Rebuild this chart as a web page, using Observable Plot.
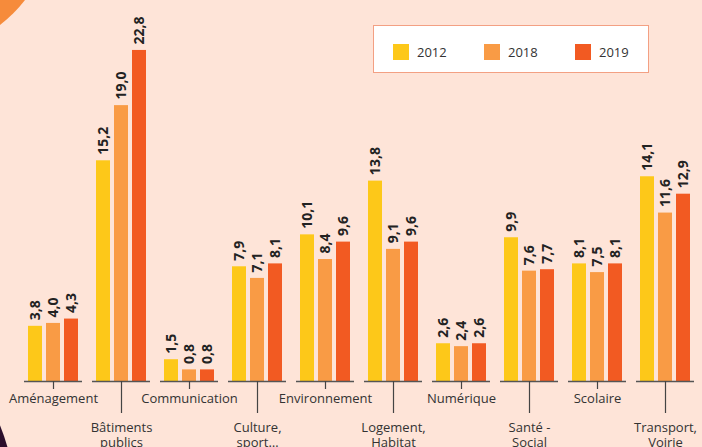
<!DOCTYPE html>
<html>
<head>
<meta charset="utf-8">
<script src="https://cdn.jsdelivr.net/npm/d3@7"></script>
<script src="https://cdn.jsdelivr.net/npm/@observablehq/plot@0.6"></script>
<style>
  html, body { margin: 0; padding: 0; background: #fee4d8; }
  #wrap { position: relative; width: 702px; height: 447px; overflow: hidden; background: #fee4d8; font-family: "Open Sans", sans-serif; }
  .deco1 { position: absolute; left: -212px; top: -212px; width: 264px; height: 264px; border-radius: 50%; background: #f68b3b; }
  .deco2 { position: absolute; left: -498px; top: 262px; width: 516px; height: 516px; border-radius: 50%; background: #2b0e2c; }
  #chart { position: absolute; left: 0; top: 0; }
  #legend { position: absolute; left: 373px; top: 25px; width: 276px; height: 48px; box-sizing: border-box; background: #fff; border: 1.5px solid #f3a083; }
  .item { position: absolute; top: 17px; display: flex; align-items: center; font-size: 13px; color: #333; }
  .sw { width: 16px; height: 16px; margin-right: 8px; }
</style>
</head>
<body>
<div id="wrap">
  <div class="deco1"></div>
  <div class="deco2"></div>
  <div id="chart"></div>
  <div id="legend"></div>
</div>
<script>
const categories = ["Aménagement", "Bâtiments\npublics", "Communication", "Culture,\nsport…", "Environnement", "Logement,\nHabitat", "Numérique", "Santé -\nSocial", "Scolaire", "Transport,\nVoirie"];
const years = ["2012", "2018", "2019"];
const colors = ["#fdc819", "#f99b45", "#f25a22"];
const v2012 = [3.8, 15.2, 1.5, 7.9, 10.1, 13.8, 2.6, 9.9, 8.1, 14.1];
const v2018 = [4.0, 19.0, 0.8, 7.1, 8.4, 9.1, 2.4, 7.6, 7.5, 11.6];
const v2019 = [4.3, 22.8, 0.8, 8.1, 9.6, 9.6, 2.6, 7.7, 8.1, 12.9];
const longLabels = [categories[1], categories[3], categories[5], categories[7], categories[9]];
const shortLabels = categories.filter(c => !longLabels.includes(c));

const series = [v2012, v2018, v2019];
const data = [];
categories.forEach((c, i) => years.forEach((y, j) => data.push({cat: c, year: y, value: series[j][i]})));

const fmt = d3.format(".1f");
const axisStyle = {anchor: "bottom", fontSize: 13, color: "#333", stroke: "#444", strokeWidth: 1.2, label: null};
const chart = Plot.plot({
  width: 702,
  height: 447,
  marginLeft: 24,
  marginRight: 7,
  marginTop: 0,
  marginBottom: 66,
  style: {background: "transparent", fontFamily: "Open Sans, sans-serif"},
  fx: {domain: categories, padding: 0.147, axis: null},
  x: {domain: years, padding: 0.222, axis: null},
  y: {domain: [0, 26.24], axis: null},
  color: {domain: years, range: colors},
  marks: [
    Plot.barY(data, {fx: "cat", x: "year", y: "value", fill: "year"}),
    Plot.ruleY([0], {stroke: "#555", strokeWidth: 1.5}),
    Plot.text(data, {fx: "cat", x: "year", y: "value", text: d => fmt(d.value).replace(".", ","), rotate: -90, textAnchor: "start", lineAnchor: "middle", dy: -6, fontWeight: "bold", fontSize: 14, fill: "#222"}),
    Plot.axisFx({...axisStyle, ticks: shortLabels, tickSize: 8, tickPadding: 4}),
    Plot.axisFx({...axisStyle, ticks: longLabels, tickSize: 32, tickPadding: 9, tickFormat: d => d.split("\n")[0]}),
    Plot.axisFx({...axisStyle, ticks: longLabels, tickSize: 0, tickPadding: 56, tickFormat: d => d.split("\n")[1]})
  ]
});
document.getElementById("chart").appendChild(chart);

const legend = document.getElementById("legend");
const lefts = [19, 110, 201];
years.forEach((y, i) => {
  const it = document.createElement("div");
  it.className = "item";
  it.style.left = lefts[i] + "px";
  it.innerHTML = `<span class="sw" style="background:${colors[i]}"></span><span>${y}</span>`;
  legend.appendChild(it);
});
</script>
</body>
</html>
